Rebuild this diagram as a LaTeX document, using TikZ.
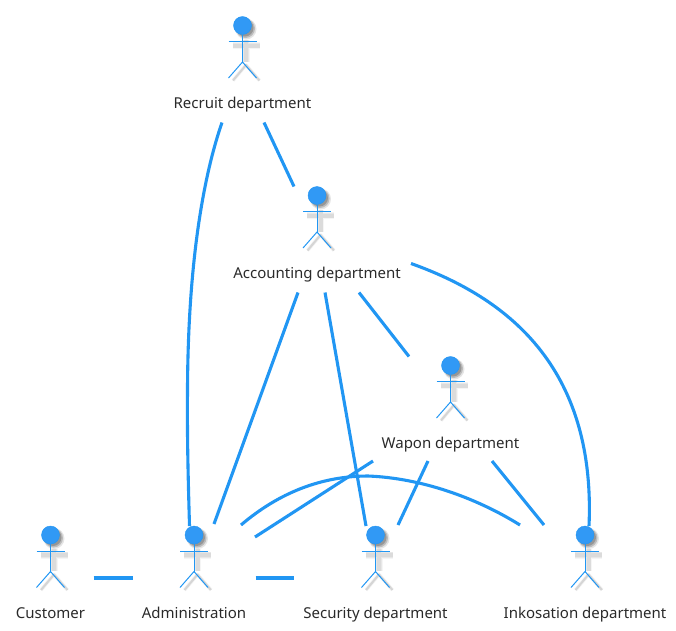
\documentclass[tikz,border=0pt]{standalone}
\usepackage{fontspec}
\setmainfont{Noto Sans}
\usetikzlibrary{calc}
\definecolor{ablue}{HTML}{2196F3}
\definecolor{ahead}{HTML}{3199F5}
\definecolor{atext}{HTML}{2A2A2A}
\tikzset{
  actorbox/.style={inner sep=0pt,outer sep=0pt,minimum height=106pt},
  actorlabel/.style={inner sep=0pt,anchor=base,text=atext,font=\fontsize{15}{17}\selectfont},
  link/.style={draw=ablue,line width=3.1pt},
  limb/.style={draw=ablue,line width=1pt},
}
\newcommand{\actorfig}[5]{% name, x, head y, width, label
  \node[actorbox,minimum width=#4pt] (#1) at (#2,#3+44) {};
  \foreach \wd/\op in {7/.04,5.5/.06,4/.05}{
    \draw[black,opacity=\op,line width=\wd pt] ($(#2,#3)+(-10,20)$) -- ($(#2,#3)+(17,20)$)
      ($(#2,#3)+(3.5,14)$) -- ($(#2,#3)+(3.5,36)$);
  }
  \foreach \wd/\op in {3.5/.05,2/.12}{
    \draw[black,opacity=\op,line width=\wd pt,line join=round] ($(#2,#3)+(-9.5,55)$) -- ($(#2,#3)+(3.5,39.5)$) -- ($(#2,#3)+(17,55)$);
  }
  \fill[black,opacity=.1] ($(#2,#3)+(3.5,3.5)$) circle[radius=10.5pt];
  \fill[black,opacity=.18] ($(#2,#3)+(3,3)$) circle[radius=9.5pt];
  \fill[black,opacity=.2] ($(#2,#3)+(2.5,2.5)$) circle[radius=8.5pt];
  \draw[limb] ($(#2,#3)+(0,9)$) -- ($(#2,#3)+(0,36.5)$);
  \draw[limb] ($(#2,#3)+(-14,16)$) -- ($(#2,#3)+(14,16)$);
  \draw[limb] ($(#2,#3)+(-14,52.5)$) -- ($(#2,#3)+(0,36.5)$) -- ($(#2,#3)+(14,52.5)$);
  \node[circle,fill=ahead,draw=ablue,line width=.4pt,inner sep=0pt,minimum size=18pt] (#1-head) at (#2,#3) {};
  \node[actorlabel] (#1-label) at (#2,#3+83) {#5};
}
\begin{document}
\begin{tikzpicture}[x=1pt,y=-1pt]
\useasboundingbox (0,0) rectangle (676,630);
\actorfig{recruit}{242.5}{25.5}{156}{Recruit department}
\actorfig{accounting}{317}{195.5}{186}{Accounting department}
\actorfig{wapon}{450.5}{365.5}{156}{Wapon department}
\actorfig{customer}{50.5}{535}{86}{Customer}
\actorfig{admin}{194}{535}{123}{Administration}
\actorfig{security}{375.5}{535}{163}{Security department}
\actorfig{inkosation}{585}{535}{180}{Inkosation department}

\draw[link] ($(recruit.south)+(21.5,0)$) -- ($(accounting.north)+(-23,0)$);
\draw[link] ($(recruit.south)+(-20.5,0)$) .. controls +(-18,52) and (188,260) .. (187.5,390) .. controls (187,440) and (188.5,490) .. ($(admin.north)+(-4.5,0)$);
\draw[link] ($(accounting.south)+(-19,0)$) -- ($(admin.north)+(20,-2)$);
\draw[link] ($(accounting.south)+(8,0)$) -- ($(security.north)+(-9.5,0)$);
\draw[link] ($(accounting.south)+(42,0)$) -- ($(wapon.north)+(-41.5,0)$);
\draw[link] ($(accounting.east)+(1,24)$) .. controls (505,297) and (596,365) .. ($(inkosation.north)+(4,0)$);
\draw[link] ($(wapon.south)+(-77.5,-1.5)$) -- ($(admin.east)+(-0.5,-42)$);
\draw[link] ($(wapon.south)+(-22.5,-1.5)$) -- ($(security.north)+(22.5,-1)$);
\draw[link] ($(wapon.south)+(41.5,-1.5)$) -- ($(inkosation.north)+(-41,-1)$);
\draw[link] ($(admin.north)+(47,-1)$) .. controls (268,502) and (310,476) .. (368,476) .. controls (420,478) and (475,497) .. ($(inkosation.north)+(-65,-1)$);
\draw[link] ($(customer.east)+(0,-1)$) -- ($(admin.west)+(0,-1)$);
\draw[link] ($(admin.east)+(0,-1)$) -- ($(security.west)+(0,-1)$);
\end{tikzpicture}
\end{document}
